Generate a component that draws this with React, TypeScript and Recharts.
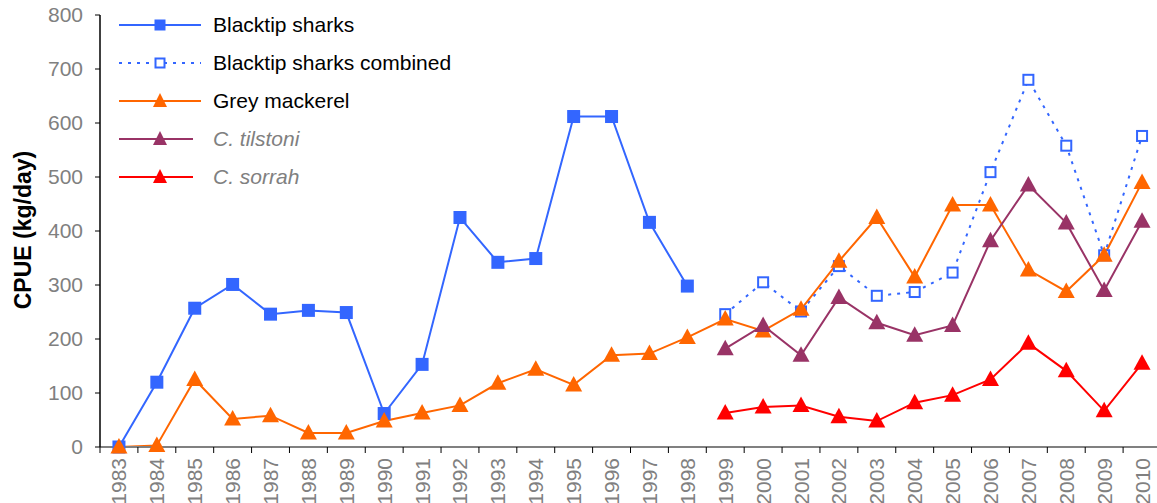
import React from 'react';
import { LineChart, Line, XAxis, YAxis } from 'recharts';

const years = [
  '1983', '1984', '1985', '1986', '1987', '1988', '1989', '1990', '1991', '1992',
  '1993', '1994', '1995', '1996', '1997', '1998', '1999', '2000', '2001', '2002',
  '2003', '2004', '2005', '2006', '2007', '2008', '2009', '2010',
];

const blacktip = [0, 120, 257, 301, 246, 253, 249, 62, 153, 425, 342, 349, 612, 612, 416, 298,
  null, null, null, null, null, null, null, null, null, null, null, null];

const blacktipCombined = [null, null, null, null, null, null, null, null, null, null, null, null,
  null, null, null, null, 246, 305, 251, 335, 280, 287, 323, 509, 680, 558, 355, 576];

const greyMackerel = [0, 3, 125, 52, 58, 26, 26, 48, 63, 77, 118, 144, 115, 170, 173, 203,
  237, 215, 255, 344, 425, 315, 448, 448, 328, 288, 355, 490];

const tilstoni = [null, null, null, null, null, null, null, null, null, null, null, null,
  null, null, null, null, 182, 225, 170, 277, 230, 207, 225, 382, 485, 415, 290, 418];

const sorrah = [null, null, null, null, null, null, null, null, null, null, null, null,
  null, null, null, null, 63, 74, 77, 56, 48, 82, 96, 125, 192, 141, 67, 155];

const yTicks = [0, 100, 200, 300, 400, 500, 600, 700, 800];

const data = years.map((year, i) => ({
  year,
  blacktip: blacktip[i],
  combined: blacktipCombined[i],
  mackerel: greyMackerel[i],
  tilstoni: tilstoni[i],
  sorrah: sorrah[i],
}));

const BLUE = '#3366ff';
const ORANGE = '#ff6600';
const PURPLE = '#993366';
const RED = '#ff0000';
const FONT = '"Liberation Sans", Arial, sans-serif';

const CHART_W = 1161;
const LEFT = 100;
const BAND = (CHART_W - LEFT) / years.length;

const SquareDot = (props: any) => {
  const { cx, cy, payload, dataKey } = props;
  if (cx == null || cy == null || payload?.[dataKey] == null) return null;
  return <rect key={`sq-${cx}`} x={cx - 6.5} y={cy - 6.5} width={13} height={13} fill={BLUE} />;
};

const OpenSquareDot = (props: any) => {
  const { cx, cy, payload, dataKey } = props;
  if (cx == null || cy == null || payload?.[dataKey] == null) return null;
  return (
    <rect key={`osq-${cx}`} x={cx - 5} y={cy - 5} width={10} height={10}
      fill="#fff" stroke={BLUE} strokeWidth={2} />
  );
};

const triangle = (color: string) => (props: any) => {
  const { cx, cy, payload, dataKey } = props;
  if (cx == null || cy == null || payload?.[dataKey] == null) return null;
  return (
    <polygon key={`tri-${dataKey}-${cx}`}
      points={`${cx},${cy - 9} ${cx - 8.5},${cy + 6.5} ${cx + 8.5},${cy + 6.5}`} fill={color} />
  );
};

const legendItems = [
  { label: 'Blacktip sharks', color: BLUE, marker: 'square', dash: undefined, italic: false, len: 82 },
  { label: 'Blacktip sharks combined', color: BLUE, marker: 'open', dash: '3 6', italic: false, len: 82 },
  { label: 'Grey mackerel', color: ORANGE, marker: 'tri', dash: undefined, italic: false, len: 82 },
  { label: 'C. tilstoni', color: PURPLE, marker: 'tri', dash: undefined, italic: true, len: 74 },
  { label: 'C. sorrah', color: RED, marker: 'tri', dash: undefined, italic: true, len: 74 },
];

const LegendBox = () => (
  <svg width={380} height={190} style={{ position: 'absolute', left: 119, top: 15 }}>
    {legendItems.map((item, i) => {
      const y = 10 + i * 38;
      const mx = 41;
      return (
        <g key={item.label}>
          <line x1={0} y1={y} x2={item.len} y2={y} stroke={item.color} strokeWidth={2}
            strokeDasharray={item.dash} />
          {item.marker === 'square' && <rect x={mx - 5.5} y={y - 5.5} width={11} height={11} fill={item.color} />}
          {item.marker === 'open' && (
            <rect x={mx - 4.5} y={y - 4.5} width={9} height={9} fill="#fff" stroke={item.color} strokeWidth={2} />
          )}
          {item.marker === 'tri' && (
            <polygon points={`${mx},${y - 8} ${mx - 7},${y + 6} ${mx + 7},${y + 6}`} fill={item.color} />
          )}
          <text x={94} y={y + 7} fontSize={21} fontFamily={FONT}
            fill={item.italic ? '#808080' : '#000'} fontStyle={item.italic ? 'italic' : 'normal'}>
            {item.label}
          </text>
        </g>
      );
    })}
  </svg>
);

// label rotated bottom-to-top, tick mark drawn on the category boundary
const XTick = (props: any) => {
  const { x, y, payload } = props;
  const axisY = y - 8;
  const bx = x - BAND / 2;
  return (
    <g>
      <line x1={bx} y1={axisY} x2={bx} y2={axisY + 6} stroke="#000" strokeWidth={1} />
      <text x={x} y={y} transform={`rotate(-90, ${x}, ${y})`} dx={-3} dy={7.5}
        textAnchor="end" fontSize={21} fontFamily={FONT} fill="#808080">
        {payload.value}
      </text>
    </g>
  );
};

export default function App() {
  return (
    <div style={{ position: 'absolute', left: 0, top: 0, width: 1157, height: 503, overflow: 'hidden', background: '#fff' }}>
      <LineChart width={CHART_W} height={503} data={data} margin={{ top: 15, right: 0, left: 0, bottom: 0 }}>
        <XAxis dataKey="year" interval={0} height={56} tick={<XTick />} tickLine={false}
          tickSize={6} padding={{ left: BAND / 2, right: BAND / 2 }}
          axisLine={{ stroke: '#808080', strokeWidth: 2 }} />
        <YAxis domain={[0, 800]} ticks={yTicks} width={LEFT} tickSize={5} tickMargin={12}
          axisLine={{ stroke: '#000', strokeWidth: 1.5 }} tickLine={{ stroke: '#000' }}
          tick={{ fill: '#808080', fontSize: 21, fontFamily: FONT }} interval={0} />
        <Line dataKey="blacktip" stroke={BLUE} strokeWidth={2} dot={<SquareDot />} activeDot={false}
          isAnimationActive={false} />
        <Line dataKey="combined" stroke={BLUE} strokeWidth={2} strokeDasharray="3 6" dot={<OpenSquareDot />}
          activeDot={false} isAnimationActive={false} />
        <Line dataKey="mackerel" stroke={ORANGE} strokeWidth={2} dot={triangle(ORANGE)} activeDot={false}
          isAnimationActive={false} />
        <Line dataKey="tilstoni" stroke={PURPLE} strokeWidth={2} dot={triangle(PURPLE)} activeDot={false}
          isAnimationActive={false} />
        <Line dataKey="sorrah" stroke={RED} strokeWidth={2} dot={triangle(RED)} activeDot={false}
          isAnimationActive={false} />
      </LineChart>
      <LegendBox />
      <div style={{
        position: 'absolute', left: 23, top: 230, transform: 'translate(-50%, -50%) rotate(-90deg)',
        whiteSpace: 'nowrap', fontFamily: FONT, fontWeight: 'bold', fontSize: 23, color: '#000',
      }}>
        CPUE (kg/day)
      </div>
    </div>
  );
}
